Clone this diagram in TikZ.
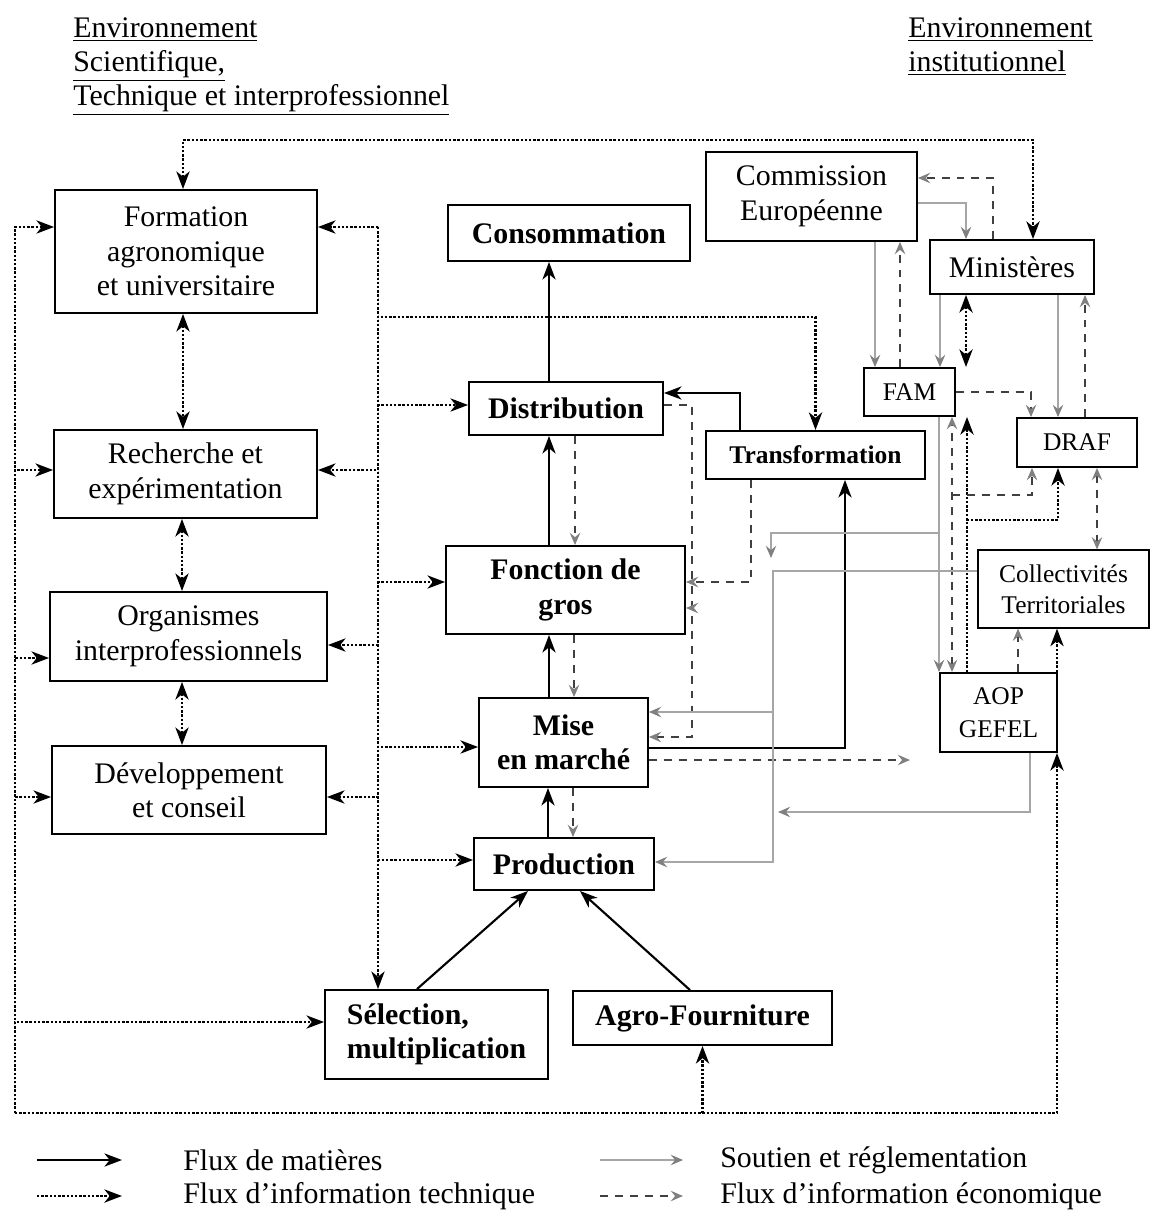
\documentclass[tikz,border=0pt]{standalone}
\usepackage{fontspec}
\setmainfont{Liberation Serif}
\usetikzlibrary{arrows.meta}

\tikzset{
	boite/.style={draw, line width=1.1pt, align=center, inner sep=1pt},
	gras/.style={font=\fontsize{17}{19.6}\selectfont\bfseries},
	petit/.style={font=\fontsize{14.5}{17.5}\selectfont},
	matiere/.style={line width=1.2pt, >={Stealth[length=10pt,width=7.5pt,inset=3pt]}, ->},
	technique/.style={line width=1.4pt, dash pattern=on 1.4pt off 1pt, >={Stealth[length=10pt,width=7.5pt,inset=3pt]}, ->},
	soutien/.style={draw=gray!70, line width=0.6pt, >={Stealth[length=7pt,width=6pt,inset=2.5pt,color=gray]}, ->},
	economique/.style={draw=black!75, line width=0.7pt, dash pattern=on 4.5pt off 4pt, >={Stealth[length=7pt,width=6pt,inset=2.5pt,color=gray]}, ->}
}

\begin{document}
\begin{tikzpicture}[x=0.02cm, y=-0.02cm, font=\fontsize{17}{19.6}\selectfont]
		\useasboundingbox (0,0) rectangle (1150,1213);

		\draw (73,17) node [anchor=north west, inner sep=0, align=left] (titreG) {\underline{Environnement}\\\underline{Scientifique,}\\\underline{Technique et interprofessionnel}};
		\draw (908,17) node [anchor=north west, inner sep=0, align=left] (titreD) {\underline{Environnement}\\\underline{institutionnel}};

		\draw (186,251.5) node [boite, minimum width=5.24cm, minimum height=2.46cm] (form) {Formation\\agronomique\\et universitaire};
		\draw (185.5,474) node [boite, minimum width=5.26cm, minimum height=1.76cm] (rech) {Recherche et\\expérimentation};
		\draw (188.5,636.5) node [boite, minimum width=5.54cm, minimum height=1.78cm] (org) {Organismes\\interprofessionnels};
		\draw (189,790) node [boite, minimum width=5.48cm, minimum height=1.76cm] (dev) {Développement\\et conseil};

		\draw (569,233) node [boite, gras, minimum width=4.84cm, minimum height=1.12cm] (cons) {Consommation};
		\draw (566,408.5) node [boite, gras, minimum width=3.88cm, minimum height=1.06cm] (dist) {Distribution};
		\draw (565.5,590) node [boite, gras, minimum width=4.78cm, minimum height=1.76cm] (gros) {Fonction de\\gros};
		\draw (563.5,742.5) node [boite, gras, minimum width=3.38cm, minimum height=1.78cm] (mise) {Mise\\en marché};
		\draw (564,864) node [boite, gras, minimum width=3.6cm, minimum height=1.04cm] (prod) {Production};
		\draw (436.5,1034.5) node [boite, gras, align=left, minimum width=4.46cm, minimum height=1.78cm] (sel) {Sélection,\\multiplication};
		\draw (702.5,1018) node [boite, gras, minimum width=5.18cm, minimum height=1.08cm] (agro) {Agro-Fourniture};
		\draw (815.5,455) node [boite, font=\fontsize{14.5}{17}\selectfont\bfseries, minimum width=4.38cm, minimum height=0.96cm] (trans) {Transformation};

		\draw (811.5,196.5) node [boite, minimum width=4.22cm, minimum height=1.78cm] (comm) {Commission\\Européenne};
		\draw (1012,267) node [boite, minimum width=3.28cm, minimum height=1.08cm] (min) {Ministères};
		\draw (909.5,392) node [boite, petit, minimum width=1.82cm, minimum height=0.96cm] (fam) {FAM};
		\draw (1077,442.5) node [boite, petit, minimum width=2.4cm, minimum height=0.98cm] (draf) {DRAF};
		\draw (1063.5,589) node [boite, petit, line width=0.7pt, minimum width=3.42cm, minimum height=1.56cm] (coll) {Collectivités\\Territoriales};
		\draw (998.5,712.5) node [boite, font=\fontsize{14.5}{19}\selectfont, minimum width=2.34cm, minimum height=1.58cm] (aop) {AOP\\GEFEL};

		\draw[matiere] (549,0 |- dist.north) -- (549,0 |- cons.south);
		\draw[matiere] (549,0 |- gros.north) -- (549,0 |- dist.south);
		\draw[matiere] (549,0 |- mise.north) -- (549,0 |- gros.south);
		\draw[matiere] (548,0 |- prod.north) -- (548,0 |- mise.south);
		\draw[matiere] (417,0 |- sel.north) -- (528,0 |- prod.south);
		\draw[matiere] (690,0 |- agro.north) -- (580,0 |- prod.south);
		\draw[matiere] (740,0 |- trans.north) |- (dist.east |- 0,393);
		\draw[matiere] (mise.east |- 0,748) -| (845,0 |- trans.south);

		\coordinate (busG) at (15,1113);
		\coordinate (busM) at (378,227);
		\draw[technique,<->] (183,0 |- form.north) -- (183,140) -| (1033,0 |- min.north);
		\draw[technique] (busG) |- (form.west |- 0,227);
		\draw[technique] (busG) |- (rech.west |- 0,470);
		\draw[technique] (busG) |- (org.west |- 0,658);
		\draw[technique] (busG) |- (dev.west |- 0,797);
		\draw[technique] (busG) |- (sel.west |- 0,1022);
		\draw[technique] (busG) -| (agro.south);
		\draw[technique] (busG) -| (1057,0 |- aop.south);
		\draw[technique] (busM) -- (form.east |- busM);
		\draw[technique] (busM) |- (rech.east |- 0,470);
		\draw[technique] (busM) |- (org.east |- 0,645);
		\draw[technique] (busM) |- (dev.east |- 0,797);
		\draw[technique] (busM) |- (dist.west |- 0,405);
		\draw[technique] (busM) |- (gros.west |- 0,582);
		\draw[technique] (busM) |- (mise.west |- 0,747);
		\draw[technique] (busM) |- (prod.west |- 0,860);
		\draw[technique] (busM) -- (busM |- sel.north);
		\draw[technique] (busM) |- (trans.north |- 0,317) -- (trans.north);
		\draw[technique,<->] (183,0 |- form.south) -- (183,0 |- rech.north);
		\draw[technique,<->] (182,0 |- rech.south) -- (182,0 |- org.north);
		\draw[technique,<->] (182,0 |- org.south) -- (182,0 |- dev.north);
		\draw[technique,<->] (966,0 |- min.south) -- (966,0 |- fam.north);
		\draw[technique] (967,0 |- aop.north) -- (967,0 |- fam.south);
		\draw[technique] (967,0 |- aop.north) -- (967,520) -| (1058,0 |- draf.south);
		\draw[technique] (1057,0 |- aop.north) -- (1057,0 |- coll.south);

		\coordinate (ecoG) at (692,608);
		\coordinate (ecoM) at (910,760);
		\coordinate (ecoF) at (952,495);
		\draw[economique] (575,0 |- dist.south) -- (575,0 |- gros.north);
		\draw[economique] (574,0 |- gros.south) -- (574,0 |- mise.north);
		\draw[economique] (573,0 |- mise.south) -- (573,0 |- prod.north);
		\draw[economique] (dist.east |- 0,405) -| (692,737) -- (mise.east |- 0,737);
		\draw[economique] (ecoG) -- (gros.east |- ecoG);
		\draw[economique] (751,0 |- trans.south) |- (gros.east |- 0,582);
		\draw[economique] (mise.east |- ecoM) -- (ecoM);
		\draw[economique] (993,0 |- min.north) |- (comm.east |- 0,178);
		\draw[economique] (900,0 |- fam.north) -- (900,0 |- comm.south);
		\draw[economique] (fam.east) -| (1031,0 |- draf.north);
		\draw[economique] (1085,0 |- draf.north) -- (1085,0 |- min.south);
		\draw[economique,<->] (1097,0 |- draf.south) -- (1097,0 |- coll.north);
		\draw[economique] (1018,0 |- aop.north) -- (1018,0 |- coll.south);
		\draw[economique,<->] (952,0 |- aop.north) -- (952,0 |- fam.south);
		\draw[economique] (ecoF) -| (1032,0 |- draf.south);

		\coordinate (soutF) at (939,533);
		\coordinate (soutJ) at (771,558);
		\coordinate (soutC) at (773,571);
		\coordinate (soutA) at (778,812);
		\draw[soutien] (875,0 |- comm.south) -- (875,0 |- fam.north);
		\draw[soutien] (comm.east |- 0,203) -| (966,0 |- min.north);
		\draw[soutien] (940,0 |- min.south) -- (940,0 |- fam.north);
		\draw[soutien] (1058,0 |- min.south) -- (1058,0 |- draf.north);
		\draw[soutien] (939,0 |- fam.south) -- (939,0 |- aop.north);
		\draw[soutien] (soutF) -| (soutJ);
		\draw[soutien] (coll.west |- soutC) -- (soutC) |- (prod.east |- 0,862);
		\draw[soutien] (soutC) |- (mise.east |- 0,712);
		\draw[soutien] (1030,0 |- aop.south) |- (soutA);

		\draw (183,1160) node [anchor=west, inner sep=0] (lg1) {Flux de matières};
		\draw (183,1196) node [anchor=west, inner sep=0] (lg2) {Flux d'information technique};
		\draw (720,1160) node [anchor=west, inner sep=0] (lg3) {Soutien et réglementation};
		\draw (720,1196) node [anchor=west, inner sep=0] (lg4) {Flux d'information économique};
		\draw[matiere] ([xshift=-2.92cm]lg1.west) -- ([xshift=-1.22cm]lg1.west);
		\draw[technique] ([xshift=-2.92cm]lg2.west) -- ([xshift=-1.22cm]lg2.west);
		\draw[soutien] ([xshift=-2.4cm]lg3.west) -- ([xshift=-0.74cm]lg3.west);
		\draw[economique] ([xshift=-2.4cm]lg4.west) -- ([xshift=-0.74cm]lg4.west);
	\end{tikzpicture}
\end{document}
